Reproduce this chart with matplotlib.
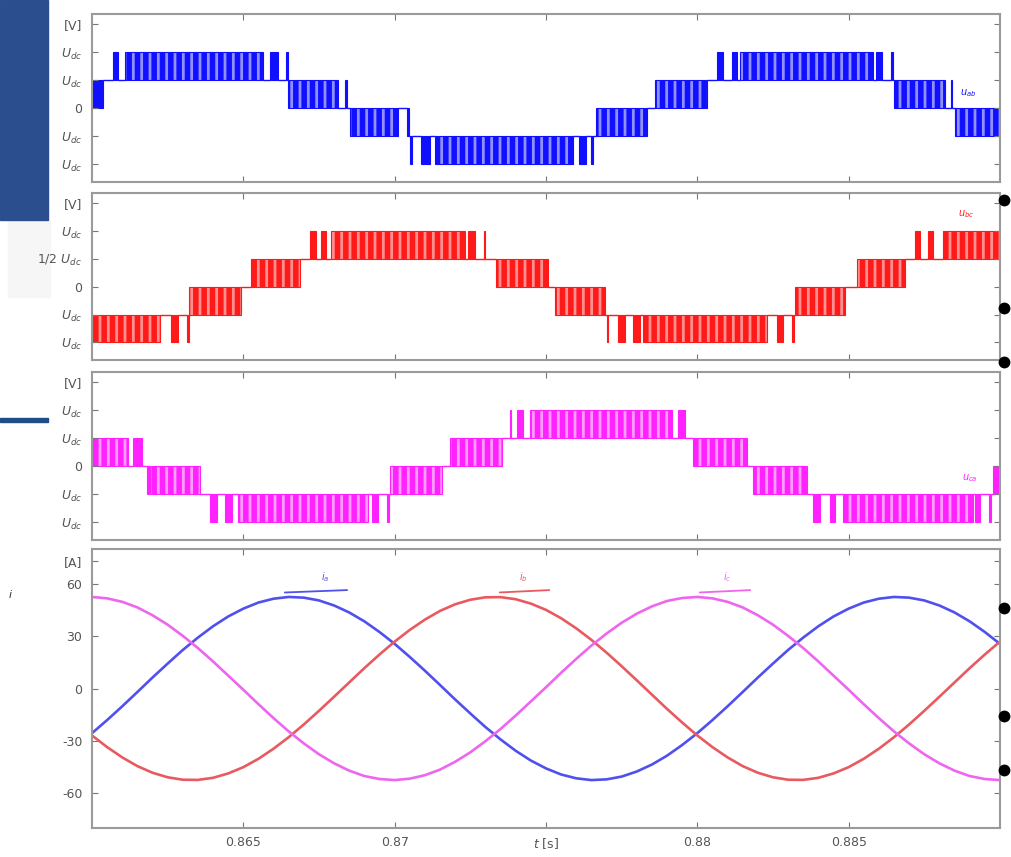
import numpy as np
import matplotlib
matplotlib.use("Agg")
import matplotlib.pyplot as plt
from matplotlib.lines import Line2D
from matplotlib.patches import Rectangle

# time axis [s]
t_min, t_max = 0.86, 0.89
x_ticks = [0.865, 0.87, 0.875, 0.88, 0.885]
x_tick_labels = ["0.865", "0.87", "$t$ [s]", "0.88", "0.885"]

# voltage axis: levels in steps of the dc level
v_ticks = [-2, -1, 0, 1, 2, 3]
v_labels_ab = ["$U_{dc}$", "$U_{dc}$", "0", "$U_{dc}$", "$U_{dc}$", "[V]"]
v_labels_bc = ["$U_{dc}$", "$U_{dc}$", "0", "1/2 $U_{dc}$", "$U_{dc}$", "[V]"]
v_labels_ca = ["$U_{dc}$", "$U_{dc}$", "0", "$U_{dc}$", "$U_{dc}$", "[V]"]

# PWM blocks: start time, end time, lower level of the switching band
ab_start = [0.86000, 0.86069, 0.86109, 0.86588, 0.86642, 0.86648, 0.86837, 0.86852,
            0.87042, 0.87052, 0.87087, 0.87133, 0.87609, 0.87650, 0.87665, 0.87860,
            0.88065, 0.88115, 0.88141, 0.88590, 0.88641, 0.88650, 0.88839, 0.88851]
ab_end = [0.86036, 0.86086, 0.86565, 0.86615, 0.86646, 0.86813, 0.86841, 0.87011,
          0.87046, 0.87056, 0.87117, 0.87589, 0.87632, 0.87654, 0.87834, 0.88032,
          0.88085, 0.88131, 0.88580, 0.88610, 0.88645, 0.88818, 0.88843, 0.89000]
ab_low = [0, 1, 1, 1, 1, 0, 0, -1, -1, -2, -2, -2, -2, -2, -1, 0, 1, 1, 1, 1, 1, 0, 0, -1]

bc_start = [0.86000, 0.86261, 0.86315, 0.86320, 0.86525, 0.86720, 0.86757, 0.86790,
            0.87242, 0.87296, 0.87335, 0.87530, 0.87700, 0.87738, 0.87787, 0.87821,
            0.88263, 0.88314, 0.88323, 0.88528, 0.88719, 0.88762, 0.88812]
bc_end = [0.86225, 0.86284, 0.86319, 0.86492, 0.86687, 0.86740, 0.86773, 0.87232,
          0.87265, 0.87300, 0.87507, 0.87695, 0.87704, 0.87761, 0.87811, 0.88230,
          0.88283, 0.88318, 0.88488, 0.88686, 0.88736, 0.88779, 0.89000]
bc_low = [-2, -2, -2, -1, 0, 1, 1, 1, 1, 1, 0, -1, -2, -2, -2, -2, -2, -2, -1, 0, 1, 1, 1]

ca_start = [0.86000, 0.86135, 0.86183, 0.86192, 0.86390, 0.86439, 0.86482, 0.86925,
            0.86976, 0.86985, 0.87183, 0.87382, 0.87404, 0.87447, 0.87936, 0.87986,
            0.88184, 0.88382, 0.88438, 0.88481, 0.88917, 0.88965, 0.88977]
ca_end = [0.86119, 0.86165, 0.86187, 0.86357, 0.86413, 0.86463, 0.86912, 0.86945,
          0.86980, 0.87156, 0.87355, 0.87386, 0.87424, 0.87916, 0.87959, 0.88164,
          0.88362, 0.88405, 0.88455, 0.88911, 0.88934, 0.88969, 0.89000]
ca_low = [0, 0, -1, -1, -2, -2, -2, -2, -2, -1, 0, 1, 1, 1, 1, 0, -1, -2, -2, -2, -2, -2, -1]

# phase currents [A], read every 0.5 ms from 0.86 s
i_time = 0.86 + 0.0005 * np.arange(61)
i_a = [-25.6, -18.1, -10.2, -2.0, 6.3, 14.3, 22.1, 29.2, 35.7, 41.3,
       45.8, 49.3, 51.5, 52.5, 52.1, 50.5, 47.6, 43.6, 38.5, 32.4,
       25.6, 18.1, 10.2, 2.0, -6.3, -14.3, -22.1, -29.2, -35.7, -41.3,
       -45.8, -49.3, -51.5, -52.5, -52.1, -50.5, -47.6, -43.6, -38.5, -32.4,
       -25.6, -18.1, -10.2, -2.0, 6.3, 14.3, 22.1, 29.2, 35.7, 41.3,
       45.8, 49.3, 51.5, 52.5, 52.1, 50.5, 47.6, 43.6, 38.5, 32.4, 25.6]
i_b = [-26.9, -33.6, -39.5, -44.5, -48.3, -50.9, -52.3, -52.4, -51.2, -48.7,
       -45.1, -40.3, -34.5, -27.9, -20.6, -12.8, -4.7, 3.5, 11.7, 19.5,
       26.9, 33.6, 39.5, 44.5, 48.3, 50.9, 52.3, 52.4, 51.2, 48.7,
       45.1, 40.3, 34.5, 27.9, 20.6, 12.8, 4.7, -3.5, -11.7, -19.5,
       -26.9, -33.6, -39.5, -44.5, -48.3, -50.9, -52.3, -52.4, -51.2, -48.7,
       -45.1, -40.3, -34.5, -27.9, -20.6, -12.8, -4.7, 3.5, 11.7, 19.5, 26.9]
i_c = [52.5, 51.7, 49.7, 46.5, 42.0, 36.6, 30.2, 23.2, 15.5, 7.4,
       -0.7, -9.0, -17.0, -24.6, -31.5, -37.7, -42.9, -47.1, -50.2, -51.9,
       -52.5, -51.7, -49.7, -46.5, -42.0, -36.6, -30.2, -23.2, -15.5, -7.4,
       0.7, 9.0, 17.0, 24.6, 31.5, 37.7, 42.9, 47.1, 50.2, 51.9,
       52.5, 51.7, 49.7, 46.5, 42.0, 36.6, 30.2, 23.2, 15.5, 7.4,
       -0.7, -9.0, -17.0, -24.6, -31.5, -37.7, -42.9, -47.1, -50.2, -51.9, -52.5]
i_ticks = [-60, -30, 0, 30, 60, 73]
i_labels = ["-60", "-30", "0", "30", "60", "[A]"]

plt.rcParams['hatch.linewidth'] = 4.0

BLUE, BLUE_L = '#1010ff', '#9090ff'
RED, RED_L = '#ff1a1a', '#ff9090'
MAG, MAG_L = '#ff22ff', '#ff9cff'


def style_axes(ax):
    ax.set_xlim(t_min, t_max)
    ax.set_xticks(x_ticks)
    for s in ax.spines.values():
        s.set_color('#9a9a9a')
        s.set_linewidth(1.5)
    ax.tick_params(direction='in', top=True, right=True, length=4, width=0.8,
                   color='#777777', labelsize=9, labelcolor='#555555')
    ax.tick_params(axis='y', pad=7)
    ax.tick_params(axis='x', pad=6)


def draw_pwm(ax, start, end, low, color, light):
    for t0, t1, lo in zip(start, end, low):
        w = t1 - t0
        if w > 0.0004:
            ax.bar(t0, 1, width=w, bottom=lo, align='edge', facecolor=light,
                   edgecolor=color, hatch='||', linewidth=0.8)
        else:
            ax.bar(t0, 1, width=w, bottom=lo, align='edge', color=color,
                   edgecolor=color, linewidth=0.8)
    # the waveform rests on a level between the blocks
    for k in range(len(start) - 1):
        a, b = low[k], low[k + 1]
        if a == b:
            lvl = a if a >= 0 else a + 1
        else:
            lvl = max(a, b)
        ax.hlines(lvl, end[k], start[k + 1], color=color, linewidth=1.0)


fig = plt.figure(figsize=(10.12, 8.57), dpi=100)
left, width = 0.0909, 0.8972
ax1 = fig.add_axes([left, 0.7876, width, 0.1960])
ax2 = fig.add_axes([left, 0.5799, width, 0.1949])
ax3 = fig.add_axes([left, 0.3699, width, 0.1960])
ax4 = fig.add_axes([left, 0.0338, width, 0.3256])

panels = [(ax1, ab_start, ab_end, ab_low, BLUE, BLUE_L, v_labels_ab),
          (ax2, bc_start, bc_end, bc_low, RED, RED_L, v_labels_bc),
          (ax3, ca_start, ca_end, ca_low, MAG, MAG_L, v_labels_ca)]
for ax, st, en, lo, c, cl, labs in panels:
    draw_pwm(ax, st, en, lo, c, cl)
    style_axes(ax)
    ax.set_ylim(-2.63, 3.36)
    ax.set_yticks(v_ticks)
    ax.set_yticklabels(labs)
    ax.set_xticklabels([])

ax1.text(0.88868, 0.55, "$u_{ab}$", color=BLUE, fontsize=7, va='center')
ax2.text(0.88861, 2.6, "$u_{bc}$", color=RED, fontsize=7, va='center')
ax3.text(0.88875, -0.42, "$u_{ca}$", color=MAG, fontsize=7, va='center')

# currents
ax4.plot(i_time, i_a, color='#5050ee', linewidth=1.9)
ax4.plot(i_time, i_b, color='#e85a60', linewidth=1.9)
ax4.plot(i_time, i_c, color='#ee66ee', linewidth=1.9)
style_axes(ax4)
ax4.set_ylim(-80, 80)
ax4.set_yticks(i_ticks)
ax4.set_yticklabels(i_labels)
ax4.set_xticklabels(x_tick_labels)

for t_txt, t0, t1, c, lab in [(0.86770, 0.86628, 0.86852, '#5050ee', "$i_a$"),
                              (0.87424, 0.87338, 0.87520, '#e85a60', "$i_b$"),
                              (0.88098, 0.87999, 0.88184, '#ee66ee', "$i_c$")]:
    ax4.annotate("", xy=(t0, 55), xytext=(t1, 56.5),
                 arrowprops=dict(arrowstyle='-', color=c, linewidth=1.3))
    ax4.text(t_txt, 64, lab, color=c, fontsize=7, ha='center', va='center')

# page decorations around the chart
fig.add_artist(Rectangle((0, 1 - 220 / 857), 48 / 1012, 220 / 857,
                         transform=fig.transFigure, color='#2b4f8e', zorder=5))
fig.add_artist(Rectangle((8 / 1012, 1 - 297 / 857), 42 / 1012, 77 / 857,
                         transform=fig.transFigure, color='#f6f6f6', zorder=-1))
fig.add_artist(Rectangle((0, 1 - 422 / 857), 48 / 1012, 4 / 857,
                         transform=fig.transFigure, color='#1f4d88', zorder=5))
for yp in [200, 308, 362, 608, 716, 770]:
    fig.add_artist(Line2D([1004 / 1012], [1 - yp / 857], marker='o', markersize=7.5,
                          color='black', transform=fig.transFigure))
fig.text(8 / 1012, 1 - 598 / 857, "$i$", fontsize=8, color='#333333')

fig.savefig("out.png", dpi=100)
